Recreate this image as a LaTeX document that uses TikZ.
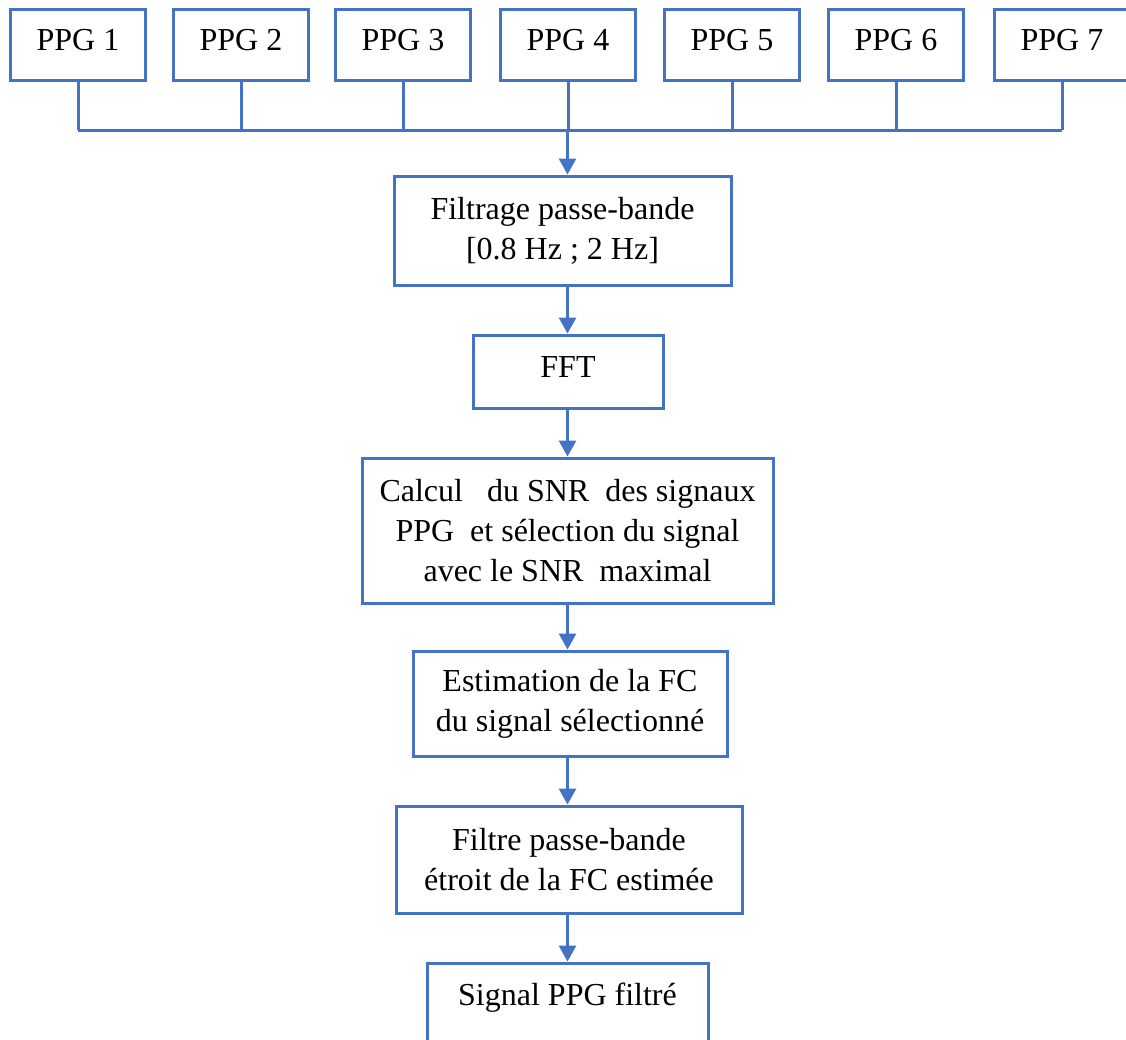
\documentclass[tikz,border=0pt]{standalone}
\usepackage{fontspec}
\setmainfont{Liberation Serif}
\usetikzlibrary{arrows.meta}
\definecolor{boxblue}{HTML}{4472C4}
\tikzset{
  box/.style={draw=boxblue, line width=3pt, fill=white, inner sep=0pt, align=center,
    font=\fontsize{32pt}{40pt}\selectfont, text=black},
  oneline/.style={text height=21pt, text depth=10pt},
  conn/.style={draw=boxblue, line width=3pt},
  arr/.style={draw=boxblue, line width=3pt, -{Triangle[width=17pt,length=16pt]}}
}
\begin{document}
\begin{tikzpicture}[x=1pt,y=-1pt]
\useasboundingbox (0,0) rectangle (1126,1039);
\clip (0,0) rectangle (1126,1039);
\fill[white] (0,0) rectangle (1126,1039);
% PPG boxes
\foreach \i/\x in {1/78,2/241,3/403,4/568,5/732,6/896,7/1062}{
  \node[box, oneline, minimum width=135pt, minimum height=71pt] (p\i) at (\x,44.5) {PPG \i};
}
\coordinate (bus) at (567.5,130);
\coordinate (axis) at (567.5,0);
\foreach \i in {1,...,7}{
  \draw[conn] (p\i.south) -- (p\i.south |- bus);
}
\draw[conn] (p1.south |- bus) -- (p7.south |- bus);
% process boxes
\node[box, minimum width=337pt, minimum height=109pt] (filt) at (562.5,230.5)
  {Filtrage passe-bande\\{}[0.8 Hz ; 2 Hz]};
\node[box, oneline, minimum width=190pt, minimum height=73pt] (fft) at (568,371.5) {FFT};
\node[box, minimum width=411pt, minimum height=145pt] (calc) at (567.5,530.5)
  {Calcul~~~du SNR~~des signaux\\PPG~~et sélection du signal\\avec le SNR~~maximal};
\node[box, minimum width=314pt, minimum height=105pt] (est) at (570,703.5)
  {Estimation de la FC\\du signal sélectionné};
\node[box, minimum width=346pt, minimum height=107pt] (filtre) at (569,859.5)
  {Filtre passe-bande\\étroit de la FC estimée};
\node[box, text height=21pt, text depth=37pt, minimum width=281pt, minimum height=100pt] (sig) at (567.5,1013)
  {Signal PPG filtré};
% arrows
\draw[arr] (bus) -- (filt.north -| axis);
\draw[arr] (filt.south -| axis) -- (fft.north -| axis);
\draw[arr] (fft.south -| axis) -- (calc.north -| axis);
\draw[arr] (calc.south -| axis) -- (est.north -| axis);
\draw[arr] (est.south -| axis) -- (filtre.north -| axis);
\draw[arr] (filtre.south -| axis) -- (sig.north -| axis);
\end{tikzpicture}
\end{document}
